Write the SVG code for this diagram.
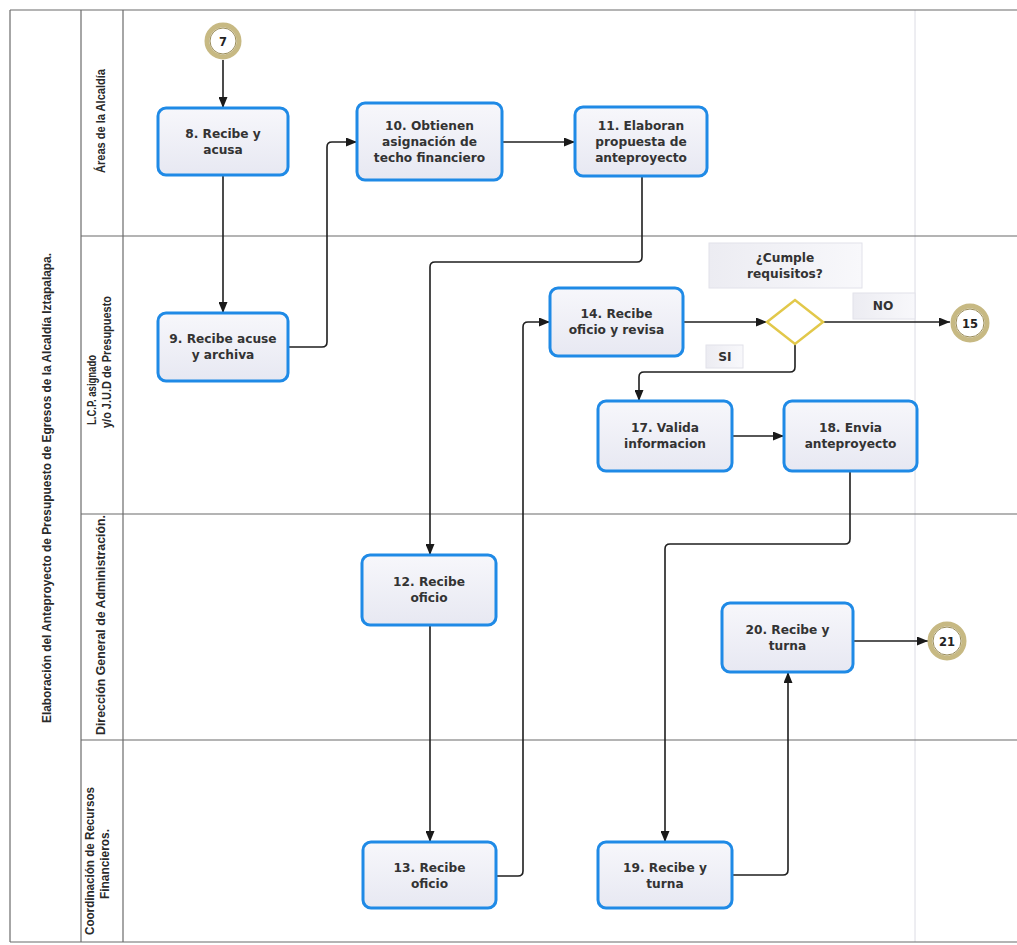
<svg xmlns="http://www.w3.org/2000/svg" width="1017" height="945" viewBox="0 0 1017 945">
<defs>
<linearGradient id="boxfill" x1="0" y1="0" x2="0" y2="1">
<stop offset="0" stop-color="#f7f7fb"/>
<stop offset="1" stop-color="#e7e8f2"/>
</linearGradient>
<linearGradient id="lblfill" x1="0" y1="0" x2="1" y2="0">
<stop offset="0" stop-color="#ececf2"/>
<stop offset="1" stop-color="#f8f8fb"/>
</linearGradient>
<marker id="arr" markerWidth="11" markerHeight="9" refX="11" refY="4.5" orient="auto" markerUnits="userSpaceOnUse">
<path d="M0,0 L11,4.5 L0,9 z" fill="#1a1a1a"/>
</marker>
<style>
.frame{stroke:#6b6b6b;stroke-width:1.2;fill:none}
.faint{stroke:#dcdce4;stroke-width:1;fill:none}
.task{fill:url(#boxfill);stroke:#1f8ae6;stroke-width:3}
.lbl{fill:url(#lblfill);stroke:#e2e2ea;stroke-width:1}
.ttxt{font-family:"DejaVu Sans",Verdana,sans-serif;font-weight:bold;font-size:12.2px;fill:#333;text-anchor:middle}
.lane{font-family:"Liberation Sans",Arial,sans-serif;font-weight:bold;font-size:13.5px;fill:#2a2a2a;text-anchor:middle}
.conn{stroke:#1f1f1f;stroke-width:1.6;fill:none}
.ev-o{fill:#ffffff;stroke:#c7b983;stroke-width:5}
.ev-i{fill:none;stroke:#9a8c58;stroke-width:1}
.etxt{font-family:"DejaVu Sans",Verdana,sans-serif;font-weight:bold;font-size:11.5px;fill:#222;text-anchor:middle}
.gw{fill:#ffffff;stroke:#e2c84a;stroke-width:2.5}
</style>
</defs>
<rect x="0" y="0" width="1017" height="945" fill="#ffffff"/>

<g id="frame">
<line class="faint" x1="915" y1="10" x2="915" y2="942"/>
<line class="frame" x1="10" y1="10" x2="1017" y2="10"/>
<line class="frame" x1="10" y1="10" x2="10" y2="942"/>
<line class="frame" x1="10" y1="942" x2="1017" y2="942"/>
<line class="frame" x1="81" y1="10" x2="81" y2="942"/>
<line class="frame" x1="123" y1="10" x2="123" y2="942"/>
<line class="frame" x1="81" y1="236" x2="1017" y2="236"/>
<line class="frame" x1="81" y1="514" x2="1017" y2="514"/>
<line class="frame" x1="81" y1="740" x2="1017" y2="740"/>
<text class="lane" transform="translate(51,488) rotate(-90)" textLength="470" lengthAdjust="spacingAndGlyphs">Elaboración del Anteproyecto  de Presupuesto de Egresos de la Alcaldía Iztapalapa.</text>
<text class="lane" transform="translate(105,121) rotate(-90)" textLength="104" lengthAdjust="spacingAndGlyphs">Áreas de la Alcaldía</text>
<text class="lane" transform="translate(96,390) rotate(-90)"><tspan textLength="70" lengthAdjust="spacingAndGlyphs">L.C.P.  asignado</tspan></text>
<text class="lane" transform="translate(111,362) rotate(-90)" textLength="132" lengthAdjust="spacingAndGlyphs">y/o J.U.D de Presupuesto</text>
<text class="lane" transform="translate(105,625) rotate(-90)" textLength="220" lengthAdjust="spacingAndGlyphs">Dirección General de Administración.</text>
<text class="lane" transform="translate(94,861) rotate(-90)" textLength="148" lengthAdjust="spacingAndGlyphs">Coordinación de Recursos</text>
<text class="lane" transform="translate(109,864) rotate(-90)" textLength="70" lengthAdjust="spacingAndGlyphs">Financieros.</text>
</g>

<g id="connectors">
<path class="conn" marker-end="url(#arr)" d="M223,60 V108"/>
<path class="conn" marker-end="url(#arr)" d="M223,175 V313"/>
<path class="conn" marker-end="url(#arr)" d="M288,347 H322 Q327,347 327,342 V147 Q327,142 332,142 H357"/>
<path class="conn" marker-end="url(#arr)" d="M502,142 H575"/>
<path class="conn" marker-end="url(#arr)" d="M642,176 V257 Q642,262 637,262 H435 Q430,262 430,267 V555"/>
<path class="conn" marker-end="url(#arr)" d="M430,625 V842"/>
<path class="conn" marker-end="url(#arr)" d="M496,876 H518 Q523,876 523,871 V327 Q523,322 528,322 H550"/>
<path class="conn" marker-end="url(#arr)" d="M683,322 H767"/>
<path class="conn" marker-end="url(#arr)" d="M823,322 H950"/>
<path class="conn" marker-end="url(#arr)" d="M795,344 V367 Q795,372 790,372 H644 Q639,372 639,377 V401"/>
<path class="conn" marker-end="url(#arr)" d="M732,436 H784"/>
<path class="conn" marker-end="url(#arr)" d="M850,471 V539 Q850,544 845,544 H670 Q665,544 665,549 V842"/>
<path class="conn" marker-end="url(#arr)" d="M732,875 H783 Q788,875 788,870 V672"/>
<path class="conn" marker-end="url(#arr)" d="M853,641 H928"/>
</g>

<g id="ev7">
<circle class="ev-o" cx="223" cy="41" r="16"/>
<circle class="ev-i" cx="223" cy="41" r="13"/>
<text class="etxt" x="223" y="45.5">7</text>
</g>
<g id="n8">
<rect class="task" x="158" y="108" width="130" height="67" rx="8"/>
<text class="ttxt" x="223" y="138">8. Recibe y</text>
<text class="ttxt" x="223" y="154">acusa</text>
</g>
<g id="n9">
<rect class="task" x="158" y="313" width="130" height="68" rx="8"/>
<text class="ttxt" x="223" y="343">9. Recibe acuse</text>
<text class="ttxt" x="223" y="359">y archiva</text>
</g>
<g id="n10">
<rect class="task" x="357" y="103" width="145" height="77" rx="8"/>
<text class="ttxt" x="429.5" y="130">10. Obtienen</text>
<text class="ttxt" x="429.5" y="146">asignación de</text>
<text class="ttxt" x="429.5" y="162">techo financiero</text>
</g>
<g id="n11">
<rect class="task" x="575" y="107" width="132" height="69" rx="8"/>
<text class="ttxt" x="641" y="130">11. Elaboran</text>
<text class="ttxt" x="641" y="146">propuesta de</text>
<text class="ttxt" x="641" y="162">anteproyecto</text>
</g>
<g id="lblcumple">
<rect class="lbl" x="709" y="243" width="153" height="45"/>
<text class="ttxt" x="785" y="262">¿Cumple</text>
<text class="ttxt" x="785" y="278">requisitos?</text>
</g>
<g id="n14">
<rect class="task" x="550" y="288" width="133" height="68" rx="8"/>
<text class="ttxt" x="616.5" y="318">14. Recibe</text>
<text class="ttxt" x="616.5" y="334">oficio y revisa</text>
</g>
<g id="gw">
<polygon class="gw" points="767,322 795,300 823,322 795,344"/>
</g>
<g id="lblno">
<rect class="lbl" x="853" y="293" width="62" height="26"/>
<text class="ttxt" x="883" y="310">NO</text>
</g>
<g id="lblsi">
<rect class="lbl" x="706" y="345" width="37" height="23"/>
<text class="ttxt" x="725" y="361">SI</text>
</g>
<g id="ev15">
<circle class="ev-o" cx="970" cy="323" r="17"/>
<circle class="ev-i" cx="970" cy="323" r="14"/>
<text class="etxt" x="970" y="327.5">15</text>
</g>
<g id="n17">
<rect class="task" x="598" y="401" width="134" height="70" rx="8"/>
<text class="ttxt" x="665" y="432">17. Valida</text>
<text class="ttxt" x="665" y="448">informacion</text>
</g>
<g id="n18">
<rect class="task" x="784" y="401" width="133" height="70" rx="8"/>
<text class="ttxt" x="850.5" y="432">18. Envia</text>
<text class="ttxt" x="850.5" y="448">anteproyecto</text>
</g>
<g id="n12">
<rect class="task" x="362" y="555" width="134" height="70" rx="8"/>
<text class="ttxt" x="429" y="586">12. Recibe</text>
<text class="ttxt" x="429" y="602">oficio</text>
</g>
<g id="n20">
<rect class="task" x="722" y="603" width="131" height="69" rx="8"/>
<text class="ttxt" x="787.5" y="634">20. Recibe y</text>
<text class="ttxt" x="787.5" y="650">turna</text>
</g>
<g id="ev21">
<circle class="ev-o" cx="947" cy="641" r="17"/>
<circle class="ev-i" cx="947" cy="641" r="14"/>
<text class="etxt" x="947" y="645.5">21</text>
</g>
<g id="n13">
<rect class="task" x="363" y="842" width="133" height="66" rx="8"/>
<text class="ttxt" x="429.5" y="872">13. Recibe</text>
<text class="ttxt" x="429.5" y="888">oficio</text>
</g>
<g id="n19">
<rect class="task" x="598" y="842" width="134" height="66" rx="8"/>
<text class="ttxt" x="665" y="872">19. Recibe y</text>
<text class="ttxt" x="665" y="888">turna</text>
</g>
</svg>
